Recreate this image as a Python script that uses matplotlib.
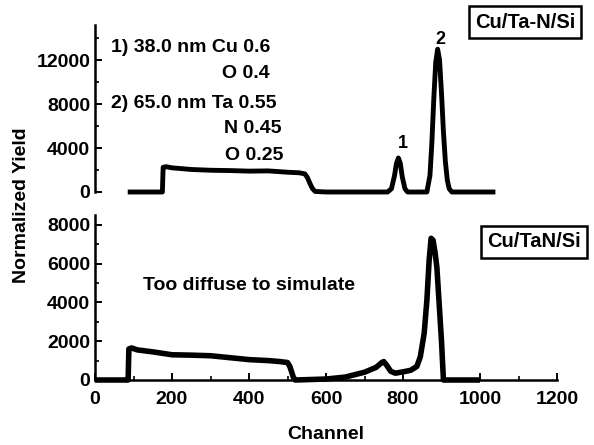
import matplotlib
matplotlib.use("Agg")
import matplotlib.pyplot as plt
from matplotlib.ticker import MultipleLocator

plt.rcParams['font.family'] = ['Liberation Sans', 'DejaVu Sans']
plt.rcParams['font.weight'] = 'bold'

# Top panel: Cu/Ta-N/Si
top_ch = [85, 175, 177, 185, 200, 250, 300, 350, 400, 450, 500, 530, 545, 552, 558, 565, 572, 600,
          700, 760, 770, 778, 783, 788, 793, 798, 805, 812, 850, 862, 870, 875, 880, 885, 890,
          895, 900, 905, 910, 915, 920, 927, 1040]
top_y = [0, 0, 2250, 2300, 2200, 2050, 1980, 1950, 1900, 1920, 1800, 1750, 1650, 1300, 800, 300, 50, 0,
         0, 0, 300, 1500, 2600, 3100, 2600, 1400, 300, 0, 0, 0, 1500, 4500, 8500, 11800, 13000,
         12000, 9000, 5500, 2800, 1100, 300, 0, 0]

# Bottom panel: Cu/TaN/Si
bot_ch = [0, 86, 88, 95, 110, 150, 200, 250, 300, 350, 400, 450, 480, 500, 506, 511, 515, 520,
          600, 650, 700, 730, 745, 750, 758, 768, 780, 800, 820, 836, 845, 855, 862, 868, 873,
          878, 883, 888, 895, 900, 905, 1000]
bot_y = [0, 0, 1600, 1650, 1550, 1450, 1300, 1280, 1250, 1150, 1050, 1000, 950, 900, 700, 400, 150, 0,
         50, 150, 400, 650, 900, 950, 750, 450, 350, 420, 500, 700, 1200, 2400, 4100, 6200, 7300,
         7200, 6600, 5800, 3600, 2000, 0, 0]

fig = plt.figure(figsize=(5.94, 4.45), dpi=100)
W, H = 594, 445
x0, x1 = 95, 557

ax1 = fig.add_axes([x0 / W, (H - 192) / H, (x1 - x0) / W, (192 - 25) / H])
ax2 = fig.add_axes([x0 / W, (H - 380) / H, (x1 - x0) / W, (380 - 215) / H])

ax1.plot(top_ch, top_y, color='black', lw=3.5, solid_capstyle='butt', clip_on=False)
ax2.plot(bot_ch, bot_y, color='black', lw=4.0, solid_capstyle='butt', clip_on=False)

for ax in (ax1, ax2):
    ax.set_xlim(0, 1200)
    ax.spines['top'].set_visible(False)
    ax.spines['right'].set_visible(False)
    ax.spines['left'].set_linewidth(1.8)
    ax.spines['bottom'].set_linewidth(1.8)
    ax.tick_params(direction='in', width=1.4, length=5, labelsize=14)
    ax.tick_params(which='minor', direction='in', width=1.2, length=3)
    for lab in ax.get_xticklabels() + ax.get_yticklabels():
        lab.set_fontweight('bold')

ax1.set_ylim(0, 15200)
ax1.yaxis.set_major_locator(MultipleLocator(4000))
ax1.yaxis.set_minor_locator(MultipleLocator(2000))
ax1.spines['bottom'].set_visible(False)
ax1.set_xticks([])

ax2.set_ylim(0, 8500)
ax2.yaxis.set_major_locator(MultipleLocator(2000))
ax2.yaxis.set_minor_locator(MultipleLocator(1000))
ax2.xaxis.set_major_locator(MultipleLocator(200))
ax2.xaxis.set_minor_locator(MultipleLocator(100))
ax2.tick_params(axis='x', pad=8)
ax2.set_xlabel('Channel', fontsize=14, fontweight='bold', labelpad=13)

fig.text(22 / W, 1 - 205 / H, 'Normalized Yield', rotation=90, ha='center', va='center',
         fontsize=14, fontweight='bold')

# Annotations
fs = 14
fig.text(111 / W, 1 - 48 / H, '1) 38.0 nm Cu 0.6', ha='left', va='center', fontsize=fs, fontweight='bold')
fig.text(270 / W, 1 - 73 / H, 'O 0.4', ha='right', va='center', fontsize=fs, fontweight='bold')
fig.text(111 / W, 1 - 103 / H, '2) 65.0 nm Ta 0.55', ha='left', va='center', fontsize=fs, fontweight='bold')
fig.text(282 / W, 1 - 128 / H, 'N 0.45', ha='right', va='center', fontsize=fs, fontweight='bold')
fig.text(283 / W, 1 - 155 / H, 'O 0.25', ha='right', va='center', fontsize=fs, fontweight='bold')
fig.text(143 / W, 1 - 286 / H, 'Too diffuse to simulate', ha='left', va='center', fontsize=fs, fontweight='bold')

ax1.text(800, 3600, '1', ha='center', va='bottom', fontsize=13, fontweight='bold')
ax1.text(896, 13100, '2', ha='center', va='bottom', fontsize=13, fontweight='bold')

box = dict(boxstyle='square,pad=0.3', facecolor='white', edgecolor='black', linewidth=1.8)
fig.text(525 / W, 1 - 22 / H, 'Cu/Ta-N/Si', ha='center', va='center', fontsize=14.5, fontweight='bold', bbox=box)
fig.text(534 / W, 1 - 242 / H, 'Cu/TaN/Si', ha='center', va='center', fontsize=14.5, fontweight='bold', bbox=box)

fig.savefig('out.png', dpi=100)
